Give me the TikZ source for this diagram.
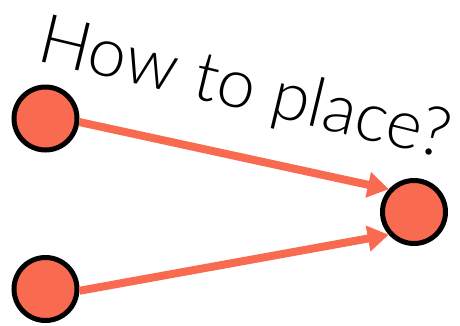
\documentclass[tikz,border=0pt]{standalone}
\usepackage{fontspec}
\setmainfont{Lato Light}
\usepackage{tikz}
\usetikzlibrary{arrows.meta}
\definecolor{dotcolor}{HTML}{F96B50}
\definecolor{rimcolor}{HTML}{000000}

\begin{document}
\begin{tikzpicture}[
    x=1pt, y=-1pt,
    vertex/.style={circle, draw=rimcolor, fill=dotcolor, line width=5pt,
                   minimum size=63pt, inner sep=0pt},
    arr/.style={-{Triangle[length=21pt, width=25pt]}, line width=8pt, draw=dotcolor},
    question/.style={font=\fontsize{68.5}{72}\selectfont, inner sep=0pt,
                     anchor=base west, rotate=-13.5}
]
    \useasboundingbox (0,0) rectangle (460,325);

    % Question label
    \node[question] (ask) at (35,60) {How to place?};

    % Nodes
    \node[vertex] (upper) at (45.5,118.5) {};
    \node[vertex] (lower) at (45.5,289) {};
    \node[vertex] (target) at (414,212) {};

    % Arrows
    \draw[arr] (upper.-6) -- (target.138);
    \draw[arr] (lower.-3) -- (target.222);
\end{tikzpicture}
\end{document}
